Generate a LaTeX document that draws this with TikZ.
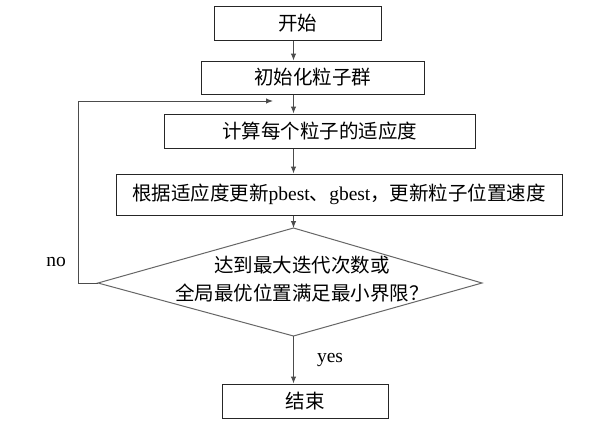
\documentclass[tikz,border=0pt]{standalone}
\usepackage{fontspec}
\setmainfont{Liberation Serif}
\newfontfamily\cjk{Noto Sans CJK SC}
\usetikzlibrary{arrows.meta}
\begin{document}
\begin{tikzpicture}[x=1pt,y=-1pt,
  every node/.style={font=\fontsize{19.5}{28}\selectfont},
  procbox/.style={draw=black!85,line width=1pt,inner sep=0pt},
  flow/.style={draw=black!70,line width=1pt,-{Latex[length=7pt,width=5.5pt]}},
  lbl/.style={inner sep=0pt,anchor=center}]
\useasboundingbox[fill=white] (0,0) rectangle (612,426);
% boxes
\node[procbox,minimum width=167pt,minimum height=34pt] (start) at (297.5,23) {\cjk 开始};
\node[procbox,minimum width=223pt,minimum height=33pt] (init) at (312.5,77.5) {\cjk 初始化粒子群};
\node[procbox,minimum width=311pt,minimum height=34pt] (comp) at (319.5,131) {\cjk 计算每个粒子的适应度};
\node[procbox,minimum width=446pt,minimum height=41pt] (upd) at (339,194.5) {{\cjk 根据适应度更新}pbest{\cjk 、}gbest{\cjk ，更新粒子位置速度}};
\node[procbox,minimum width=166pt,minimum height=34pt] (end) at (305,401) {\cjk 结束};
% decision diamond
\coordinate (dtop) at (293.5,228);
\coordinate (dleft) at (98,283);
\coordinate (dright) at (482,283);
\coordinate (dbot) at (293.5,336);
\draw[draw=black!60,line width=1pt] (dtop) -- (dright) -- (dbot) -- (dleft) -- cycle;
\node[lbl,align=center] (dtext) at (302,279) {{\cjk 达到最大迭代次数或}\\[0pt]{\cjk 全局最优位置满足最小界限？}};
% arrows along center line
\draw[flow] (start.south -| dtop) -- (init.north -| dtop);
\draw[flow] (init.south -| dtop) -- (comp.north -| dtop);
\draw[flow] (comp.south -| dtop) -- (upd.north -| dtop);
\draw[flow] (upd.south -| dtop) -- (dtop);
\draw[flow] (dbot) -- (end.north -| dbot);
% loop back
\coordinate (lcorner) at (78,283);
\coordinate (ltop) at (78,101);
\coordinate (lend) at (273,101);
\draw[flow] (dleft) -- (lcorner) -- (ltop) -- (lend);
% labels
\node[lbl] (no) at (56,262) {no};
\node[lbl] (yes) at (330,360) {yes};
\end{tikzpicture}
\end{document}
